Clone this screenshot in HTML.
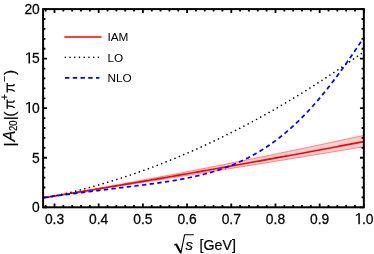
<!DOCTYPE html>
<html><head><meta charset="utf-8">
<style>
html,body{margin:0;padding:0;background:#fff;}
body{width:374px;height:254px;overflow:hidden;}
svg{display:block;will-change:transform;}
text{font-family:"Liberation Sans",sans-serif;fill:#000;}
</style></head><body>
<svg width="374" height="254" viewBox="0 0 374 254">
<rect width="374" height="254" fill="#fff"/>
<!-- IAM band -->
<path d="M43.10,197.84 L45.80,197.40 L48.49,196.95 L51.19,196.50 L53.88,196.05 L56.58,195.59 L59.27,195.13 L61.97,194.67 L64.66,194.21 L67.36,193.75 L70.05,193.28 L72.75,192.82 L75.44,192.35 L78.14,191.88 L80.84,191.40 L83.53,190.93 L86.23,190.45 L88.92,189.98 L91.62,189.50 L94.31,189.02 L97.01,188.54 L99.70,188.06 L102.40,187.57 L105.09,187.09 L107.79,186.60 L110.48,186.11 L113.18,185.62 L115.88,185.13 L118.57,184.64 L121.27,184.15 L123.96,183.65 L126.66,183.16 L129.35,182.66 L132.05,182.16 L134.74,181.66 L137.44,181.16 L140.13,180.66 L142.83,180.16 L145.52,179.66 L148.22,179.15 L150.92,178.64 L153.61,178.14 L156.31,177.63 L159.00,177.12 L161.70,176.61 L164.39,176.10 L167.09,175.58 L169.78,175.07 L172.48,174.55 L175.17,174.04 L177.87,173.52 L180.56,173.00 L183.26,172.48 L185.96,171.96 L188.65,171.44 L191.35,170.92 L194.04,170.40 L196.74,169.87 L199.43,169.34 L202.13,168.82 L204.82,168.29 L207.52,167.76 L210.21,167.23 L212.91,166.70 L215.60,166.17 L218.30,165.63 L220.99,165.10 L223.69,164.57 L226.39,164.03 L229.08,163.49 L231.78,162.95 L234.47,162.41 L237.17,161.87 L239.86,161.33 L242.56,160.79 L245.25,160.25 L247.95,159.70 L250.64,159.16 L253.34,158.61 L256.03,158.06 L258.73,157.52 L261.43,156.97 L264.12,156.42 L266.82,155.87 L269.51,155.31 L272.21,154.76 L274.90,154.21 L277.60,153.65 L280.29,153.10 L282.99,152.54 L285.68,151.98 L288.38,151.42 L291.07,150.86 L293.77,150.30 L296.47,149.74 L299.16,149.18 L301.86,148.61 L304.55,148.05 L307.25,147.48 L309.94,146.92 L312.64,146.35 L315.33,145.78 L318.03,145.21 L320.72,144.64 L323.42,144.07 L326.11,143.50 L328.81,142.93 L331.51,142.35 L334.20,141.78 L336.90,141.20 L339.59,140.62 L342.29,140.05 L344.98,139.47 L347.68,138.89 L350.37,138.31 L353.07,137.73 L355.76,137.14 L358.46,136.56 L361.15,135.98 L363.85,135.39 L363.85,146.70 L361.15,147.15 L358.46,147.61 L355.76,148.06 L353.07,148.51 L350.37,148.96 L347.68,149.41 L344.98,149.86 L342.29,150.31 L339.59,150.76 L336.90,151.20 L334.20,151.65 L331.51,152.10 L328.81,152.55 L326.11,152.99 L323.42,153.44 L320.72,153.88 L318.03,154.33 L315.33,154.77 L312.64,155.22 L309.94,155.66 L307.25,156.10 L304.55,156.55 L301.86,156.99 L299.16,157.43 L296.47,157.87 L293.77,158.31 L291.07,158.75 L288.38,159.19 L285.68,159.63 L282.99,160.07 L280.29,160.51 L277.60,160.95 L274.90,161.39 L272.21,161.82 L269.51,162.26 L266.82,162.70 L264.12,163.13 L261.43,163.57 L258.73,164.00 L256.03,164.44 L253.34,164.87 L250.64,165.31 L247.95,165.74 L245.25,166.17 L242.56,166.61 L239.86,167.04 L237.17,167.47 L234.47,167.90 L231.78,168.33 L229.08,168.77 L226.39,169.20 L223.69,169.63 L220.99,170.06 L218.30,170.49 L215.60,170.91 L212.91,171.34 L210.21,171.77 L207.52,172.20 L204.82,172.63 L202.13,173.05 L199.43,173.48 L196.74,173.91 L194.04,174.33 L191.35,174.76 L188.65,175.18 L185.96,175.61 L183.26,176.03 L180.56,176.46 L177.87,176.88 L175.17,177.30 L172.48,177.73 L169.78,178.15 L167.09,178.57 L164.39,179.00 L161.70,179.42 L159.00,179.84 L156.31,180.26 L153.61,180.68 L150.92,181.10 L148.22,181.52 L145.52,181.94 L142.83,182.36 L140.13,182.78 L137.44,183.20 L134.74,183.62 L132.05,184.04 L129.35,184.46 L126.66,184.88 L123.96,185.30 L121.27,185.71 L118.57,186.13 L115.88,186.55 L113.18,186.97 L110.48,187.38 L107.79,187.80 L105.09,188.22 L102.40,188.64 L99.70,189.05 L97.01,189.47 L94.31,189.89 L91.62,190.30 L88.92,190.72 L86.23,191.14 L83.53,191.55 L80.84,191.97 L78.14,192.39 L75.44,192.80 L72.75,193.22 L70.05,193.64 L67.36,194.05 L64.66,194.47 L61.97,194.89 L59.27,195.31 L56.58,195.72 L53.88,196.14 L51.19,196.56 L48.49,196.99 L45.80,197.41 L43.10,197.84 Z" fill="#ffcdcd" stroke="none"/>
<path d="M43.10,197.84 L45.80,197.40 L48.49,196.95 L51.19,196.50 L53.88,196.05 L56.58,195.59 L59.27,195.13 L61.97,194.67 L64.66,194.21 L67.36,193.75 L70.05,193.28 L72.75,192.82 L75.44,192.35 L78.14,191.88 L80.84,191.40 L83.53,190.93 L86.23,190.45 L88.92,189.98 L91.62,189.50 L94.31,189.02 L97.01,188.54 L99.70,188.06 L102.40,187.57 L105.09,187.09 L107.79,186.60 L110.48,186.11 L113.18,185.62 L115.88,185.13 L118.57,184.64 L121.27,184.15 L123.96,183.65 L126.66,183.16 L129.35,182.66 L132.05,182.16 L134.74,181.66 L137.44,181.16 L140.13,180.66 L142.83,180.16 L145.52,179.66 L148.22,179.15 L150.92,178.64 L153.61,178.14 L156.31,177.63 L159.00,177.12 L161.70,176.61 L164.39,176.10 L167.09,175.58 L169.78,175.07 L172.48,174.55 L175.17,174.04 L177.87,173.52 L180.56,173.00 L183.26,172.48 L185.96,171.96 L188.65,171.44 L191.35,170.92 L194.04,170.40 L196.74,169.87 L199.43,169.34 L202.13,168.82 L204.82,168.29 L207.52,167.76 L210.21,167.23 L212.91,166.70 L215.60,166.17 L218.30,165.63 L220.99,165.10 L223.69,164.57 L226.39,164.03 L229.08,163.49 L231.78,162.95 L234.47,162.41 L237.17,161.87 L239.86,161.33 L242.56,160.79 L245.25,160.25 L247.95,159.70 L250.64,159.16 L253.34,158.61 L256.03,158.06 L258.73,157.52 L261.43,156.97 L264.12,156.42 L266.82,155.87 L269.51,155.31 L272.21,154.76 L274.90,154.21 L277.60,153.65 L280.29,153.10 L282.99,152.54 L285.68,151.98 L288.38,151.42 L291.07,150.86 L293.77,150.30 L296.47,149.74 L299.16,149.18 L301.86,148.61 L304.55,148.05 L307.25,147.48 L309.94,146.92 L312.64,146.35 L315.33,145.78 L318.03,145.21 L320.72,144.64 L323.42,144.07 L326.11,143.50 L328.81,142.93 L331.51,142.35 L334.20,141.78 L336.90,141.20 L339.59,140.62 L342.29,140.05 L344.98,139.47 L347.68,138.89 L350.37,138.31 L353.07,137.73 L355.76,137.14 L358.46,136.56 L361.15,135.98 L363.85,135.39" fill="none" stroke="#ff6a6a" stroke-width="0.8"/>
<path d="M43.10,197.84 L45.80,197.41 L48.49,196.99 L51.19,196.56 L53.88,196.14 L56.58,195.72 L59.27,195.31 L61.97,194.89 L64.66,194.47 L67.36,194.05 L70.05,193.64 L72.75,193.22 L75.44,192.80 L78.14,192.39 L80.84,191.97 L83.53,191.55 L86.23,191.14 L88.92,190.72 L91.62,190.30 L94.31,189.89 L97.01,189.47 L99.70,189.05 L102.40,188.64 L105.09,188.22 L107.79,187.80 L110.48,187.38 L113.18,186.97 L115.88,186.55 L118.57,186.13 L121.27,185.71 L123.96,185.30 L126.66,184.88 L129.35,184.46 L132.05,184.04 L134.74,183.62 L137.44,183.20 L140.13,182.78 L142.83,182.36 L145.52,181.94 L148.22,181.52 L150.92,181.10 L153.61,180.68 L156.31,180.26 L159.00,179.84 L161.70,179.42 L164.39,179.00 L167.09,178.57 L169.78,178.15 L172.48,177.73 L175.17,177.30 L177.87,176.88 L180.56,176.46 L183.26,176.03 L185.96,175.61 L188.65,175.18 L191.35,174.76 L194.04,174.33 L196.74,173.91 L199.43,173.48 L202.13,173.05 L204.82,172.63 L207.52,172.20 L210.21,171.77 L212.91,171.34 L215.60,170.91 L218.30,170.49 L220.99,170.06 L223.69,169.63 L226.39,169.20 L229.08,168.77 L231.78,168.33 L234.47,167.90 L237.17,167.47 L239.86,167.04 L242.56,166.61 L245.25,166.17 L247.95,165.74 L250.64,165.31 L253.34,164.87 L256.03,164.44 L258.73,164.00 L261.43,163.57 L264.12,163.13 L266.82,162.70 L269.51,162.26 L272.21,161.82 L274.90,161.39 L277.60,160.95 L280.29,160.51 L282.99,160.07 L285.68,159.63 L288.38,159.19 L291.07,158.75 L293.77,158.31 L296.47,157.87 L299.16,157.43 L301.86,156.99 L304.55,156.55 L307.25,156.10 L309.94,155.66 L312.64,155.22 L315.33,154.77 L318.03,154.33 L320.72,153.88 L323.42,153.44 L326.11,152.99 L328.81,152.55 L331.51,152.10 L334.20,151.65 L336.90,151.20 L339.59,150.76 L342.29,150.31 L344.98,149.86 L347.68,149.41 L350.37,148.96 L353.07,148.51 L355.76,148.06 L358.46,147.61 L361.15,147.15 L363.85,146.70" fill="none" stroke="#ff6a6a" stroke-width="0.8"/>
<!-- IAM -->
<path d="M43.10,197.84 L45.80,197.40 L48.49,196.97 L51.19,196.54 L53.88,196.10 L56.58,195.66 L59.27,195.23 L61.97,194.79 L64.66,194.35 L67.36,193.92 L70.05,193.48 L72.75,193.04 L75.44,192.60 L78.14,192.16 L80.84,191.71 L83.53,191.27 L86.23,190.83 L88.92,190.38 L91.62,189.94 L94.31,189.49 L97.01,189.05 L99.70,188.60 L102.40,188.16 L105.09,187.71 L107.79,187.26 L110.48,186.81 L113.18,186.36 L115.88,185.91 L118.57,185.46 L121.27,185.01 L123.96,184.55 L126.66,184.10 L129.35,183.65 L132.05,183.19 L134.74,182.74 L137.44,182.28 L140.13,181.83 L142.83,181.37 L145.52,180.91 L148.22,180.45 L150.92,179.99 L153.61,179.53 L156.31,179.07 L159.00,178.61 L161.70,178.15 L164.39,177.69 L167.09,177.22 L169.78,176.76 L172.48,176.30 L175.17,175.83 L177.87,175.36 L180.56,174.90 L183.26,174.43 L185.96,173.96 L188.65,173.49 L191.35,173.03 L194.04,172.56 L196.74,172.08 L199.43,171.61 L202.13,171.14 L204.82,170.67 L207.52,170.20 L210.21,169.72 L212.91,169.25 L215.60,168.77 L218.30,168.30 L220.99,167.82 L223.69,167.34 L226.39,166.86 L229.08,166.39 L231.78,165.91 L234.47,165.43 L237.17,164.95 L239.86,164.46 L242.56,163.98 L245.25,163.50 L247.95,163.02 L250.64,162.53 L253.34,162.05 L256.03,161.56 L258.73,161.08 L261.43,160.59 L264.12,160.10 L266.82,159.61 L269.51,159.13 L272.21,158.64 L274.90,158.15 L277.60,157.66 L280.29,157.16 L282.99,156.67 L285.68,156.18 L288.38,155.69 L291.07,155.19 L293.77,154.70 L296.47,154.20 L299.16,153.70 L301.86,153.21 L304.55,152.71 L307.25,152.21 L309.94,151.71 L312.64,151.21 L315.33,150.71 L318.03,150.21 L320.72,149.71 L323.42,149.21 L326.11,148.71 L328.81,148.20 L331.51,147.70 L334.20,147.19 L336.90,146.69 L339.59,146.18 L342.29,145.68 L344.98,145.17 L347.68,144.66 L350.37,144.15 L353.07,143.64 L355.76,143.13 L358.46,142.62 L361.15,142.11 L363.85,141.60" fill="none" stroke="#ff0000" stroke-width="1.65"/>
<!-- LO -->
<path d="M43.10,198.35 L45.80,197.82 L48.49,197.27 L51.19,196.71 L53.88,196.14 L56.58,195.55 L59.27,194.96 L61.97,194.35 L64.66,193.73 L67.36,193.10 L70.05,192.46 L72.75,191.80 L75.44,191.14 L78.14,190.46 L80.84,189.77 L83.53,189.07 L86.23,188.36 L88.92,187.63 L91.62,186.89 L94.31,186.15 L97.01,185.39 L99.70,184.61 L102.40,183.83 L105.09,183.03 L107.79,182.23 L110.48,181.41 L113.18,180.58 L115.88,179.73 L118.57,178.88 L121.27,178.01 L123.96,177.13 L126.66,176.24 L129.35,175.34 L132.05,174.43 L134.74,173.50 L137.44,172.56 L140.13,171.61 L142.83,170.65 L145.52,169.68 L148.22,168.70 L150.92,167.70 L153.61,166.69 L156.31,165.67 L159.00,164.64 L161.70,163.60 L164.39,162.54 L167.09,161.47 L169.78,160.40 L172.48,159.30 L175.17,158.20 L177.87,157.09 L180.56,155.96 L183.26,154.82 L185.96,153.67 L188.65,152.51 L191.35,151.34 L194.04,150.15 L196.74,148.96 L199.43,147.75 L202.13,146.53 L204.82,145.30 L207.52,144.05 L210.21,142.80 L212.91,141.53 L215.60,140.25 L218.30,138.96 L220.99,137.66 L223.69,136.34 L226.39,135.01 L229.08,133.68 L231.78,132.33 L234.47,130.96 L237.17,129.59 L239.86,128.20 L242.56,126.81 L245.25,125.40 L247.95,123.98 L250.64,122.54 L253.34,121.10 L256.03,119.64 L258.73,118.17 L261.43,116.69 L264.12,115.20 L266.82,113.70 L269.51,112.18 L272.21,110.66 L274.90,109.12 L277.60,107.57 L280.29,106.00 L282.99,104.43 L285.68,102.84 L288.38,101.25 L291.07,99.64 L293.77,98.01 L296.47,96.38 L299.16,94.74 L301.86,93.08 L304.55,91.41 L307.25,89.73 L309.94,88.04 L312.64,86.33 L315.33,84.62 L318.03,82.89 L320.72,81.15 L323.42,79.40 L326.11,77.64 L328.81,75.86 L331.51,74.07 L334.20,72.28 L336.90,70.46 L339.59,68.64 L342.29,66.81 L344.98,64.96 L347.68,63.11 L350.37,61.24 L353.07,59.36 L355.76,57.46 L358.46,55.56 L361.15,53.64 L363.85,51.71" fill="none" stroke="#000" stroke-width="1.65" stroke-linecap="round" stroke-dasharray="0.01 4.75"/>
<!-- NLO -->
<path d="M43.10,197.64 L45.80,197.29 L48.49,196.93 L51.19,196.57 L53.88,196.21 L56.58,195.86 L59.27,195.50 L61.97,195.14 L64.66,194.79 L67.36,194.43 L70.05,194.08 L72.75,193.73 L75.44,193.38 L78.14,193.03 L80.84,192.68 L83.53,192.34 L86.23,191.99 L88.92,191.65 L91.62,191.31 L94.31,190.98 L97.01,190.64 L99.70,190.31 L102.40,189.97 L105.09,189.64 L107.79,189.31 L110.48,188.98 L113.18,188.66 L115.88,188.33 L118.57,188.00 L121.27,187.68 L123.96,187.35 L126.66,187.02 L129.35,186.69 L132.05,186.36 L134.74,186.03 L137.44,185.69 L140.13,185.35 L142.83,185.01 L145.52,184.66 L148.22,184.31 L150.92,183.95 L153.61,183.58 L156.31,183.21 L159.00,182.83 L161.70,182.44 L164.39,182.03 L167.09,181.62 L169.78,181.20 L172.48,180.76 L175.17,180.30 L177.87,179.84 L180.56,179.35 L183.26,178.85 L185.96,178.33 L188.65,177.78 L191.35,177.22 L194.04,176.63 L196.74,176.02 L199.43,175.39 L202.13,174.72 L204.82,174.03 L207.52,173.31 L210.21,172.56 L212.91,171.77 L215.60,170.95 L218.30,170.10 L220.99,169.21 L223.69,168.28 L226.39,167.30 L229.08,166.29 L231.78,165.23 L234.47,164.13 L237.17,162.98 L239.86,161.79 L242.56,160.54 L245.25,159.24 L247.95,157.89 L250.64,156.48 L253.34,155.02 L256.03,153.50 L258.73,151.92 L261.43,150.29 L264.12,148.59 L266.82,146.82 L269.51,145.00 L272.21,143.11 L274.90,141.15 L277.60,139.12 L280.29,137.02 L282.99,134.86 L285.68,132.62 L288.38,130.31 L291.07,127.93 L293.77,125.48 L296.47,122.95 L299.16,120.35 L301.86,117.68 L304.55,114.93 L307.25,112.11 L309.94,109.21 L312.64,106.24 L315.33,103.19 L318.03,100.07 L320.72,96.88 L323.42,93.62 L326.11,90.29 L328.81,86.89 L331.51,83.42 L334.20,79.88 L336.90,76.28 L339.59,72.62 L342.29,68.90 L344.98,65.13 L347.68,61.30 L350.37,57.42 L353.07,53.49 L355.76,49.53 L358.46,45.52 L361.15,41.48 L363.85,37.41" fill="none" stroke="#0000ff" stroke-width="1.7" stroke-dasharray="4.4 3.3" stroke-dashoffset="0.4"/>
<!-- frame -->
<rect x="43.1" y="9.1" width="320.75" height="198.20" fill="none" stroke="#000" stroke-width="2"/>
<path d="M45.66,207.30 v-2.3 M45.66,9.10 v2.3 M54.50,207.30 v-3.9 M54.50,9.10 v3.9 M63.34,207.30 v-2.3 M63.34,9.10 v2.3 M72.18,207.30 v-2.3 M72.18,9.10 v2.3 M81.02,207.30 v-2.3 M81.02,9.10 v2.3 M89.86,207.30 v-2.3 M89.86,9.10 v2.3 M98.69,207.30 v-3.9 M98.69,9.10 v3.9 M107.53,207.30 v-2.3 M107.53,9.10 v2.3 M116.37,207.30 v-2.3 M116.37,9.10 v2.3 M125.21,207.30 v-2.3 M125.21,9.10 v2.3 M134.05,207.30 v-2.3 M134.05,9.10 v2.3 M142.89,207.30 v-3.9 M142.89,9.10 v3.9 M151.73,207.30 v-2.3 M151.73,9.10 v2.3 M160.56,207.30 v-2.3 M160.56,9.10 v2.3 M169.40,207.30 v-2.3 M169.40,9.10 v2.3 M178.24,207.30 v-2.3 M178.24,9.10 v2.3 M187.08,207.30 v-3.9 M187.08,9.10 v3.9 M195.92,207.30 v-2.3 M195.92,9.10 v2.3 M204.76,207.30 v-2.3 M204.76,9.10 v2.3 M213.60,207.30 v-2.3 M213.60,9.10 v2.3 M222.43,207.30 v-2.3 M222.43,9.10 v2.3 M231.27,207.30 v-3.9 M231.27,9.10 v3.9 M240.11,207.30 v-2.3 M240.11,9.10 v2.3 M248.95,207.30 v-2.3 M248.95,9.10 v2.3 M257.79,207.30 v-2.3 M257.79,9.10 v2.3 M266.63,207.30 v-2.3 M266.63,9.10 v2.3 M275.46,207.30 v-3.9 M275.46,9.10 v3.9 M284.30,207.30 v-2.3 M284.30,9.10 v2.3 M293.14,207.30 v-2.3 M293.14,9.10 v2.3 M301.98,207.30 v-2.3 M301.98,9.10 v2.3 M310.82,207.30 v-2.3 M310.82,9.10 v2.3 M319.66,207.30 v-3.9 M319.66,9.10 v3.9 M328.50,207.30 v-2.3 M328.50,9.10 v2.3 M337.33,207.30 v-2.3 M337.33,9.10 v2.3 M346.17,207.30 v-2.3 M346.17,9.10 v2.3 M355.01,207.30 v-2.3 M355.01,9.10 v2.3 M363.85,207.30 v-3.9 M363.85,9.10 v3.9 M43.10,207.30 h3.9 M363.85,207.30 h-3.9 M43.10,197.39 h2.3 M363.85,197.39 h-2.3 M43.10,187.48 h2.3 M363.85,187.48 h-2.3 M43.10,177.57 h2.3 M363.85,177.57 h-2.3 M43.10,167.66 h2.3 M363.85,167.66 h-2.3 M43.10,157.75 h3.9 M363.85,157.75 h-3.9 M43.10,147.84 h2.3 M363.85,147.84 h-2.3 M43.10,137.93 h2.3 M363.85,137.93 h-2.3 M43.10,128.02 h2.3 M363.85,128.02 h-2.3 M43.10,118.11 h2.3 M363.85,118.11 h-2.3 M43.10,108.20 h3.9 M363.85,108.20 h-3.9 M43.10,98.29 h2.3 M363.85,98.29 h-2.3 M43.10,88.38 h2.3 M363.85,88.38 h-2.3 M43.10,78.47 h2.3 M363.85,78.47 h-2.3 M43.10,68.56 h2.3 M363.85,68.56 h-2.3 M43.10,58.65 h3.9 M363.85,58.65 h-3.9 M43.10,48.74 h2.3 M363.85,48.74 h-2.3 M43.10,38.83 h2.3 M363.85,38.83 h-2.3 M43.10,28.92 h2.3 M363.85,28.92 h-2.3 M43.10,19.01 h2.3 M363.85,19.01 h-2.3 M43.10,9.10 h3.9 M363.85,9.10 h-3.9" stroke="#000" stroke-width="1.8" fill="none"/>
<!-- tick labels -->
<g font-size="15.3px" stroke="#000" stroke-width="0.25"><text transform="translate(54.50,224.3) scale(0.905,1)" text-anchor="middle">0.3</text><text transform="translate(98.69,224.3) scale(0.905,1)" text-anchor="middle">0.4</text><text transform="translate(142.89,224.3) scale(0.905,1)" text-anchor="middle">0.5</text><text transform="translate(187.08,224.3) scale(0.905,1)" text-anchor="middle">0.6</text><text transform="translate(231.27,224.3) scale(0.905,1)" text-anchor="middle">0.7</text><text transform="translate(275.46,224.3) scale(0.905,1)" text-anchor="middle">0.8</text><text transform="translate(319.66,224.3) scale(0.905,1)" text-anchor="middle">0.9</text><g transform="translate(354.23,224.30)" stroke="none" fill="#000"><path d="M4.1,-11.0 H5.6 V0 H4.1 Z"/><path d="M5.0,-11.0 C4.55,-9.6 3.2,-8.65 1.6,-8.2 L1.6,-9.45 C2.8,-9.9 3.8,-10.5 4.3,-11.0 Z"/></g><text transform="translate(361.93,224.3) scale(0.905,1)" text-anchor="start">.0</text><text transform="translate(39.8,212.10) scale(0.905,1)" text-anchor="end">0</text><text transform="translate(39.8,162.55) scale(0.905,1)" text-anchor="end">5</text><text transform="translate(39.8,113.00) scale(0.905,1)" text-anchor="end">0</text><g transform="translate(24.40,113.00)" stroke="none" fill="#000"><path d="M4.1,-11.0 H5.6 V0 H4.1 Z"/><path d="M5.0,-11.0 C4.55,-9.6 3.2,-8.65 1.6,-8.2 L1.6,-9.45 C2.8,-9.9 3.8,-10.5 4.3,-11.0 Z"/></g><text transform="translate(39.8,63.45) scale(0.905,1)" text-anchor="end">5</text><g transform="translate(24.40,63.45)" stroke="none" fill="#000"><path d="M4.1,-11.0 H5.6 V0 H4.1 Z"/><path d="M5.0,-11.0 C4.55,-9.6 3.2,-8.65 1.6,-8.2 L1.6,-9.45 C2.8,-9.9 3.8,-10.5 4.3,-11.0 Z"/></g><text transform="translate(39.8,13.90) scale(0.905,1)" text-anchor="end">20</text></g>
<!-- legend -->
<path d="M64.4,36.9 H101.6" stroke="#ff0000" stroke-width="1.5"/>
<path d="M65.3,57.3 H101.6" stroke="#000" stroke-width="1.65" stroke-linecap="round" stroke-dasharray="0.01 4.72"/>
<path d="M65.0,77.9 H99.4" stroke="#0000ff" stroke-width="1.7" stroke-dasharray="4.4 3.35"/>
<g font-size="11.8px">
<text x="107.4" y="41.1">IAM</text>
<text x="107.4" y="61.6">LO</text>
<text x="107.4" y="82.1">NLO</text>
</g>
<!-- y label -->
<g transform="translate(14.7,146.8) rotate(-90)" font-size="15.5px" stroke="#000" stroke-width="0.2">
<text x="0.3" y="0" font-size="15.5px">|</text><text x="5.2" y="0.2" font-size="16.5px" font-style="italic">A</text><text x="26.6" y="0" font-size="15.5px">|</text><text x="30.1" y="0" font-size="15.5px">(</text><text x="46.5" y="-6.3" font-size="10.5px">+</text><text x="64.5" y="-6.3" font-size="10.5px">&#8722;</text><text x="71.7" y="0" font-size="15.5px">)</text><text transform="translate(15.7,2.6) scale(0.9,1)" font-size="10.6px">20</text><g transform="translate(37.9,0)" fill="none" stroke="#000" stroke-linecap="butt"><path d="M0.1,-7.5 H9.4" stroke-width="1.3"/><path d="M3.1,-7.5 C3.1,-4.2 2.6,-1.6 1.0,-0.1" stroke-width="1.3"/><path d="M6.8,-7.5 L6.9,-1.6 Q7.0,-0.3 8.6,-0.7" stroke-width="1.3"/></g><g transform="translate(54.3,0)" fill="none" stroke="#000" stroke-linecap="butt"><path d="M0.1,-7.5 H9.4" stroke-width="1.3"/><path d="M3.1,-7.5 C3.1,-4.2 2.6,-1.6 1.0,-0.1" stroke-width="1.3"/><path d="M6.8,-7.5 L6.9,-1.6 Q7.0,-0.3 8.6,-0.7" stroke-width="1.3"/></g>
</g>
<!-- x label -->
<path d="M174.2,245.2 L176.1,244.0 L180.9,252.8 L184.6,234.7 H193.8" fill="none" stroke="#000" stroke-width="1.15" stroke-linejoin="miter"/>
<path d="M176.1,244.3 L180.6,252.4" fill="none" stroke="#000" stroke-width="2.1"/>
<g font-size="14.2px" stroke="#000" stroke-width="0.2">
<text x="185.5" y="249.9" font-style="italic" font-size="15px">s</text>
<text x="199.6" y="249.8">[GeV]</text>
</g>
</svg>
</body></html>
